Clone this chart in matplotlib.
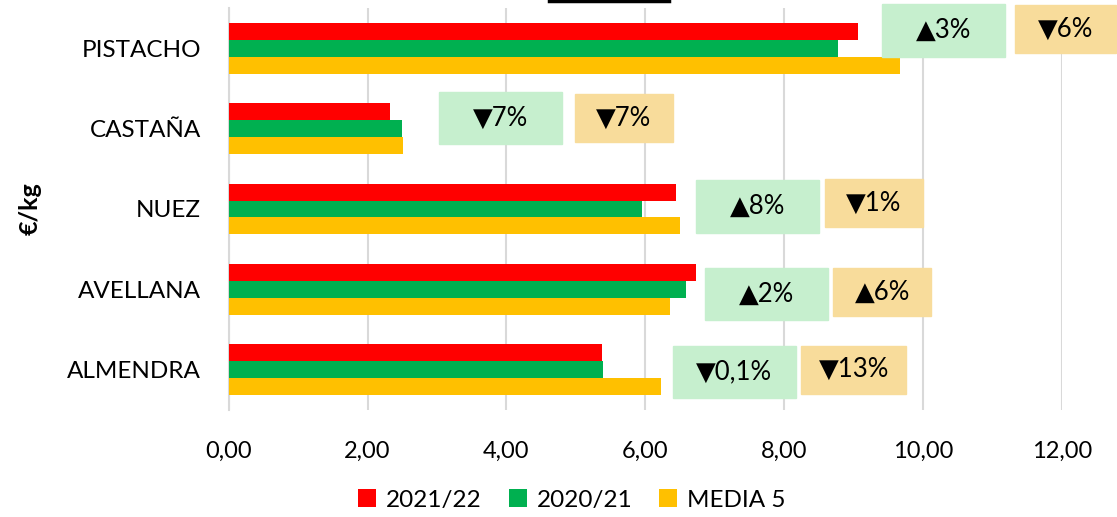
''' precio medio frutos secos: barras horizontales con variaciones'''
#%% import
import numpy as np
import matplotlib
matplotlib.use('Agg')
import matplotlib.pyplot as plt
from matplotlib.patches import Rectangle
from matplotlib.lines import Line2D

plt.rcParams['font.family'] = ['Lato', 'DejaVu Sans']

#%% data (bottom to top)
categories = ['ALMENDRA', 'AVELLANA', 'NUEZ', 'CASTAÑA', 'PISTACHO']
series = ['2021/22', '2020/21', 'MEDIA 5']
v2122 = [5.38, 6.73, 6.44, 2.32, 9.06]
v2021 = [5.39, 6.59, 5.95, 2.49, 8.78]
media5 = [6.23, 6.36, 6.50, 2.51, 9.67]
# variacion vs campaña anterior y vs media 5
varPrev = ['▼0,1%', '▲2%', '▲8%', '▼7%', '▲3%']
varMedia = ['▼13%', '▲6%', '▼1%', '▼7%', '▼6%']

colors = ['#FF0000', '#00B050', '#FFC000']
xticks = [0, 2, 4, 6, 8, 10, 12]

# label box layout (x centre in data units, y offset from category)
prevX = [7.28, 7.75, 7.62, 3.92, 10.29]
prevDy = [-0.03, -0.06, 0.03, 0.13, 0.22]
mediaX = [9.00, 9.41, 9.29, 5.69, 12.05]
mediaDy = [0.0, -0.03, 0.07, 0.13, 0.24]
mediaW = [1.51, 1.41, 1.41, 1.41, 1.45]

#%% plot
fig = plt.figure(figsize=(11.17, 5.17), dpi=100)
ax = fig.add_axes([0.2047, 0.207, 0.7461, 0.7775])

y = np.arange(len(categories))
h = 0.21
for i, (vals, off) in enumerate(zip([v2122, v2021, media5], [h, 0, -h])):
    ax.barh(y + off, vals, height=h, color=colors[i], label=series[i], zorder=3)

ax.set_xlim(0, 12)
ax.set_ylim(-0.5, len(categories) - 0.5)
ax.set_xticks(xticks)
ax.set_xticklabels([f'{t:.2f}'.replace('.', ',') for t in xticks], fontsize=17)
ax.set_yticks(y)
ax.set_yticklabels(categories, fontsize=17.5)
ax.tick_params(axis='both', length=0)
ax.tick_params(axis='y', pad=20)
ax.tick_params(axis='x', pad=22)
ax.grid(axis='x', color='#D9D9D9', lw=1.5, zorder=0)
for s in ['top', 'right', 'bottom']:
    ax.spines[s].set_visible(False)
ax.spines['left'].set_color('#D9D9D9')
ax.spines['left'].set_linewidth(1.5)

fig.text(0.027, 0.597, '€/kg', rotation=90, fontsize=18, fontweight='bold',
         ha='center', va='center')

# boxes with variations
for i in range(len(categories)):
    w, hb = 1.77, 0.65
    ax.add_patch(Rectangle((prevX[i] - w/2, y[i] + prevDy[i] - hb/2), w, hb,
                           color='#C6EFCE', clip_on=False, zorder=4))
    ax.text(prevX[i], y[i] + prevDy[i], varPrev[i], ha='center', va='center',
            fontsize=18.5, zorder=5, clip_on=False)
    hb = 0.6
    ax.add_patch(Rectangle((mediaX[i] - mediaW[i]/2, y[i] + mediaDy[i] - hb/2), mediaW[i], hb,
                           color='#F8DC9B', clip_on=False, zorder=4))
    ax.text(mediaX[i], y[i] + mediaDy[i], varMedia[i], ha='center', va='center',
            fontsize=18.5, zorder=5, clip_on=False)

# title underline fragment at top
fig.add_artist(Line2D([0.4915, 0.599], [0.999, 0.999], color='black', lw=2.5))

fig.legend(loc='center', bbox_to_anchor=(0.512, 0.033), ncol=3, frameon=False,
           fontsize=17.5, handlelength=0.75, handleheight=0.75, handletextpad=0.4,
           columnspacing=1.1)

fig.savefig('out.png', dpi=100)
